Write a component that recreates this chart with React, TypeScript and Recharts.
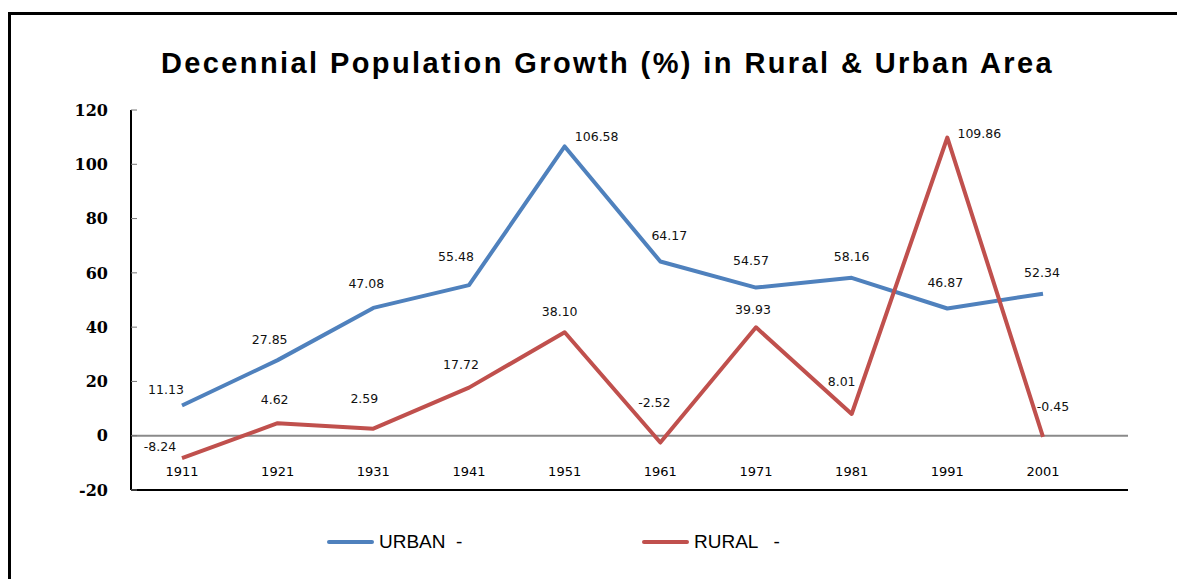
import { LabelList, Legend, Line, LineChart, ReferenceLine, XAxis, YAxis } from 'recharts'

const years = ['1911', '1921', '1931', '1941', '1951', '1961', '1971', '1981', '1991', '2001']
const urban = [11.13, 27.85, 47.08, 55.48, 106.58, 64.17, 54.57, 58.16, 46.87, 52.34]
const rural = [-8.24, 4.62, 2.59, 17.72, 38.1, -2.52, 39.93, 8.01, 109.86, -0.45]
const yTicks = [-20, 0, 20, 40, 60, 80, 100, 120]

// label nudges relative to each point (dx, dy)
const urbanNudge = [[-16, -16], [-8, -21], [-7, -24], [-13, -29], [32, -10], [9, -26], [-5, -27], [0, -21], [-2, -26], [-1, -21]]
const ruralNudge = [[-22, -12], [-3, -24], [-9, -30], [-8, -23], [-5, -21], [-6, -40], [-3, -18], [-10, -32], [32, -4], [10, -30]]

const rows = years.map((year, i) => ({ year, urban: urban[i], rural: rural[i] }))

const BLUE = '#4F81BD'
const RED = '#C0504D'

const pointLabel = (nudge: number[][]) => (props: any) => {
  const { x, y, value, index } = props
  const [dx, dy] = nudge[index] ?? [0, -22]
  return (
    <text
      x={x + dx}
      y={y + dy}
      textAnchor="middle"
      dominantBaseline="central"
      fontFamily="DejaVu Sans"
      fontSize={12.5}
      fill="#111"
    >
      {Number(value).toFixed(2)}
    </text>
  )
}

function YearTick({ x, y, payload }: any) {
  return (
    <text x={x} y={y - 14} textAnchor="middle" fontFamily="DejaVu Sans" fontSize={13} fill="#000">
      {payload.value}
    </text>
  )
}

function ValueTick({ x, y, payload }: any) {
  return (
    <g>
      <line x1={x} y1={y} x2={x + 6} y2={y} stroke="#777" strokeWidth={1} />
      <text
        x={x - 23}
        y={y}
        dy="0.36em"
        textAnchor="end"
        fontFamily="DejaVu Serif"
        fontWeight={700}
        fontSize={16}
        fill="#000"
      >
        {payload.value}
      </text>
    </g>
  )
}

function LegendBox() {
  const items = [
    { name: 'URBAN  -', color: BLUE },
    { name: 'RURAL   -', color: RED },
  ]
  return (
    <div style={{ display: 'flex', alignItems: 'center', height: 26 }}>
      {items.map((it) => (
        <div key={it.name} style={{ display: 'flex', alignItems: 'center', width: 315 }}>
          <div style={{ width: 47, height: 4, borderRadius: 2, background: it.color }} />
          <span
            style={{
              marginLeft: 5,
              fontFamily: 'Liberation Sans',
              fontSize: 19,
              whiteSpace: 'pre',
              color: '#000',
            }}
          >
            {it.name}
          </span>
        </div>
      ))}
    </div>
  )
}

export default function App() {
  return (
    <div style={{ position: 'relative', width: 1177, height: 571 }}>
      <div
        style={{
          position: 'absolute',
          left: 0,
          top: 4,
          width: 1177,
          height: 567,
          borderTop: '3px solid #000',
          borderLeft: '3px solid #000',
          boxSizing: 'border-box',
        }}
      />
      <div
        style={{
          position: 'absolute',
          left: 22,
          top: 41,
          width: 1155,
          textAlign: 'center',
          fontFamily: 'Liberation Sans',
          fontWeight: 700,
          fontSize: 29,
          lineHeight: '28px',
          letterSpacing: 2.4,
          color: '#000',
        }}
      >
        Decennial Population Growth (%) in Rural &amp; Urban Area
      </div>
      <div style={{ position: 'absolute', left: 0, top: 0 }}>
        <LineChart width={1177} height={571} data={rows} margin={{ top: 102, right: 57, bottom: 59, left: 0 }}>
          <XAxis
            dataKey="year"
            height={30}
            padding={{ left: 51, right: 85 }}
            tickLine={false}
            tickSize={0}
            tickMargin={0}
            tick={<YearTick />}
            interval={0}
            axisLine={{ stroke: '#000', strokeWidth: 2 }}
          />
          <XAxis
            xAxisId="top"
            orientation="top"
            dataKey="year"
            height={0}
            tick={false}
            tickLine={false}
            axisLine={{ stroke: '#000', strokeWidth: 2 }}
          />
          <YAxis
            width={123}
            domain={[-20, 120]}
            ticks={yTicks}
            interval={0}
            tickLine={false}
            tickSize={0}
            tickMargin={0}
            tick={<ValueTick />}
            axisLine={{ stroke: '#000', strokeWidth: 2 }}
          />
          <YAxis
            yAxisId="right"
            orientation="right"
            width={0}
            domain={[-20, 120]}
            tick={false}
            tickLine={false}
            axisLine={{ stroke: '#000', strokeWidth: 2 }}
          />
          <ReferenceLine y={0} stroke="#8a8a8a" strokeWidth={2} />
          <Line
            type="linear"
            dataKey="urban"
            name="URBAN"
            stroke={BLUE}
            strokeWidth={4}
            strokeLinejoin="round"
            dot={false}
            activeDot={false}
            isAnimationActive={false}
          >
            <LabelList dataKey="urban" content={pointLabel(urbanNudge)} />
          </Line>
          <Line
            type="linear"
            dataKey="rural"
            name="RURAL"
            stroke={RED}
            strokeWidth={4}
            strokeLinejoin="round"
            dot={false}
            activeDot={false}
            isAnimationActive={false}
          >
            <LabelList dataKey="rural" content={pointLabel(ruralNudge)} />
          </Line>
          <Legend
            layout="horizontal"
            verticalAlign="middle"
            align="center"
            wrapperStyle={{ left: 319, top: 521, width: 700, height: 26 }}
            content={() => <LegendBox />}
          />
        </LineChart>
      </div>
    </div>
  )
}
